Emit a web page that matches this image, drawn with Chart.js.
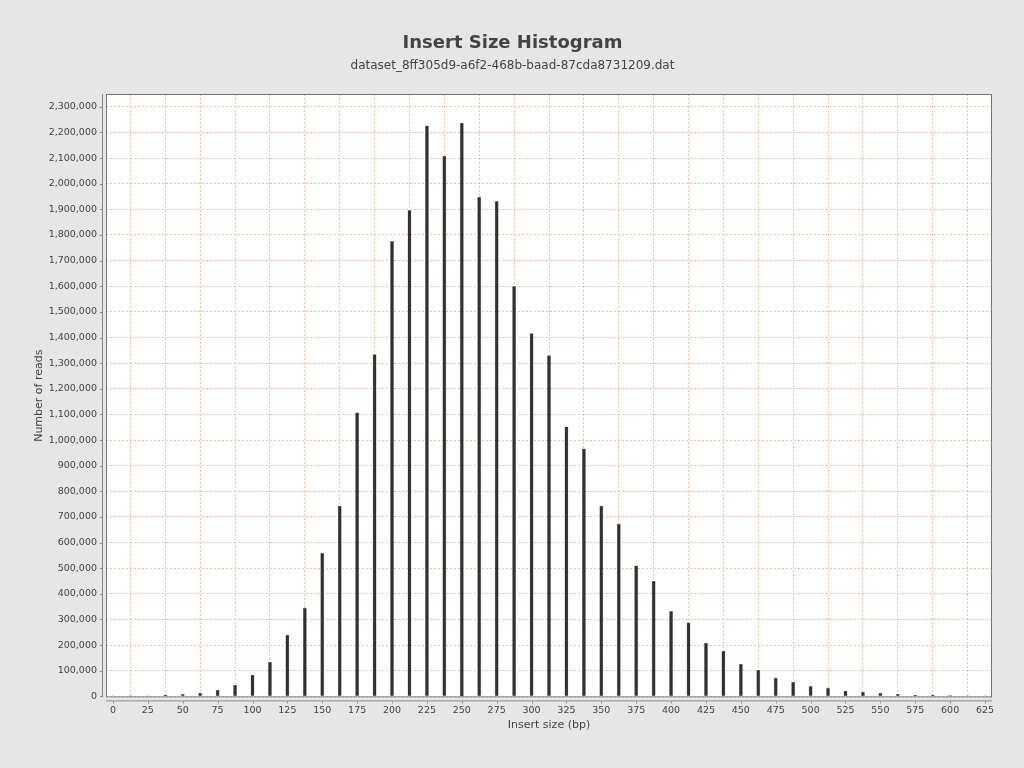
<!DOCTYPE html>
<html>
<head>
<meta charset="utf-8">
<script src="https://cdn.jsdelivr.net/npm/chart.js@4/dist/chart.umd.min.js"></script>
<style>
html,body{margin:0;padding:0;background:#e6e6e6;}
#wrap{width:1024px;height:768px;position:relative;}
</style>
</head>
<body>
<div id="wrap"><canvas id="c" width="1024" height="768"></canvas></div>
<script>
const titleText = "Insert Size Histogram";
const subtitleText = "dataset_8ff305d9-a6f2-468b-baad-87cda8731209.dat";
const xAxisTitle = "Insert size (bp)";
const yAxisTitle = "Number of reads";

const insertSizes = [0,12.5,25,37.5,50,62.5,75,87.5,100,112.5,125,137.5,150,162.5,175,187.5,200,212.5,225,237.5,250,262.5,275,287.5,300,312.5,325,337.5,350,362.5,375,387.5,400,412.5,425,437.5,450,462.5,475,487.5,500,512.5,525,537.5,550,562.5,575,587.5,600,612.5,625];
const readCounts = [2000,1000,1500,5000,9000,13000,25000,44000,83000,134000,240000,345000,559000,743000,1107000,1334000,1776000,1897000,2226000,2108000,2237000,1948000,1932000,1600000,1416000,1330000,1052000,966000,743000,673000,510000,450000,332000,287000,208000,177000,126000,103000,72000,56000,40000,33000,21000,17000,13000,9000,5500,5000,3000,2000,2000];
const xTickValues = [0,25,50,75,100,125,150,175,200,225,250,275,300,325,350,375,400,425,450,475,500,525,550,575,600,625];
const yTickValues = [0,100000,200000,300000,400000,500000,600000,700000,800000,900000,1000000,1100000,1200000,1300000,1400000,1500000,1600000,1700000,1800000,1900000,2000000,2100000,2200000,2300000];

const points = insertSizes.map((x, i) => ({x: x, y: readCounts[i]}));
const fmt = v => Math.round(v).toLocaleString('en-US');

const framePlugin = {
  id: 'frame',
  beforeDraw(chart) {
    const ctx = chart.ctx, a = chart.chartArea;
    ctx.save();
    ctx.fillStyle = '#e6e6e6';
    ctx.fillRect(0, 0, chart.width, chart.height);
    ctx.fillStyle = '#ffffff';
    ctx.fillRect(a.left, a.top, a.right - a.left, a.bottom - a.top);
    ctx.restore();
  },
  afterDraw(chart) {
    const ctx = chart.ctx, a = chart.chartArea;
    ctx.save();
    ctx.strokeStyle = '#777777';
    ctx.lineWidth = 1;
    ctx.strokeRect(a.left + 0.5, a.top + 0.5, a.right - a.left - 1, a.bottom - a.top - 1);
    ctx.strokeStyle = '#888888';
    ctx.beginPath();
    ctx.moveTo(a.left - 3.5, a.top);
    ctx.lineTo(a.left - 3.5, a.bottom);
    ctx.moveTo(a.left, a.bottom + 3.5);
    ctx.lineTo(a.right, a.bottom + 3.5);
    ctx.stroke();
    const xs = chart.scales.x, ys = chart.scales.y;
    ctx.beginPath();
    xTickValues.forEach(v => {
      const px = Math.round(xs.getPixelForValue(v)) + 0.5;
      ctx.moveTo(px, a.bottom + 4);
      ctx.lineTo(px, a.bottom + 6);
    });
    yTickValues.forEach(v => {
      const py = Math.round(ys.getPixelForValue(v)) + 0.5;
      ctx.moveTo(a.left - 4, py);
      ctx.lineTo(a.left - 6, py);
    });
    ctx.stroke();
    ctx.restore();
  }
};

new Chart(document.getElementById('c'), {
  type: 'bar',
  data: {
    datasets: [{
      data: points,
      backgroundColor: '#303030',
      borderColor: 'rgba(140,140,150,0.55)',
      borderWidth: 0.6,
      barThickness: 3.5,
      grouped: false
    }]
  },
  plugins: [framePlugin],
  options: {
    responsive: false,
    animation: false,
    layout: { padding: { left: 33, right: 32, top: 0, bottom: 36 } },
    plugins: {
      legend: { display: false },
      tooltip: { enabled: false },
      title: {
        display: true, text: titleText, color: '#444444',
        font: { family: 'DejaVu Sans', size: 18, weight: 'bold' },
        padding: { top: 33, bottom: 4 }
      },
      subtitle: {
        display: true, text: subtitleText, color: '#444444',
        font: { family: 'DejaVu Sans', size: 12 },
        padding: { top: 0, bottom: 21 }
      }
    },
    scales: {
      x: {
        type: 'linear', min: -5, max: 630, offset: false,
        afterBuildTicks: s => { s.ticks = xTickValues.map(v => ({value: v})); },
        ticks: { color: '#444444', font: { family: 'DejaVu Sans', size: 9.5 }, padding: 3, maxRotation: 0, autoSkip: false, callback: v => String(v) },
        grid: { color: 'rgba(240,170,120,0.75)', lineWidth: 1, drawTicks: true, tickLength: 4, tickColor: 'rgba(0,0,0,0)' },
        border: { display: false, dash: [2, 2] },
        title: { display: true, text: xAxisTitle, color: '#444444', font: { family: 'DejaVu Sans', size: 11 }, padding: { top: 0, bottom: 0 } }
      },
      y: {
        type: 'linear', min: -4000, max: 2350000,
        afterBuildTicks: s => { s.ticks = yTickValues.map(v => ({value: v})); },
        afterFit: s => { s.width = 73; },
        ticks: { color: '#444444', font: { family: 'DejaVu Sans', size: 9.5 }, padding: 3, autoSkip: false, callback: v => fmt(v) },
        grid: { color: 'rgba(240,170,120,0.75)', lineWidth: 1, drawTicks: true, tickLength: 6, tickColor: 'rgba(0,0,0,0)' },
        border: { display: false, dash: [2, 2] },
        title: { display: true, text: yAxisTitle, color: '#444444', font: { family: 'DejaVu Sans', size: 11 }, padding: { top: 0, bottom: 2 } }
      }
    }
  }
});
</script>
</body>
</html>
